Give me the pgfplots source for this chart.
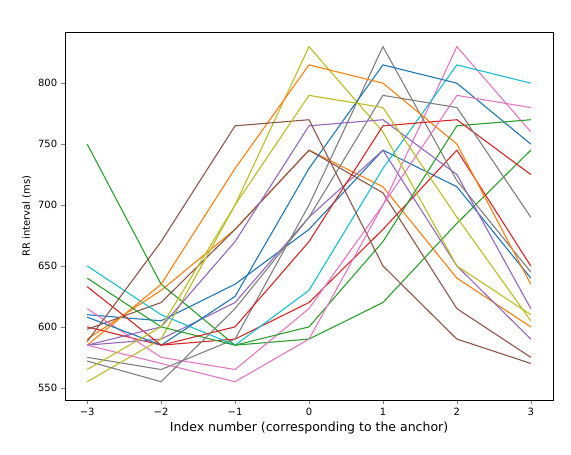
\documentclass[border=0pt]{standalone}
\usepackage{pgfplots}
\pgfplotsset{compat=1.18}
\usepackage{fontspec}
\setmainfont{DejaVu Sans}
\definecolor{c0}{HTML}{1F77B4}\definecolor{c1}{HTML}{FF7F0E}\definecolor{c2}{HTML}{2CA02C}
\definecolor{c3}{HTML}{D62728}\definecolor{c4}{HTML}{9467BD}\definecolor{c5}{HTML}{8C564B}
\definecolor{c6}{HTML}{E377C2}\definecolor{c7}{HTML}{7F7F7F}\definecolor{c8}{HTML}{BCBD22}
\definecolor{c9}{HTML}{17BECF}
\begin{document}
\begin{tikzpicture}
\path (-65pt,-55pt) rectangle (506pt,400pt);
\begin{axis}[at={(0,0)}, anchor=south west, scale only axis, width=488pt, height=368pt,
 xmin=-3.3, xmax=3.3, ymin=540, ymax=842,
 xtick={-3,...,3}, ytick={550,600,...,800},
 tick label style={font=\fontsize{10}{12}\selectfont},
 /pgf/number format/assume math mode=true,
 xticklabels={−3,−2,−1,0,1,2,3},
 xlabel={Index number (corresponding to the anchor)},
 ylabel={RR interval (ms)},
 xlabel style={font=\fontsize{12.5}{14}\selectfont},
 ylabel style={font=\fontsize{10}{12}\selectfont},
 tick align=outside, xtick pos=bottom, ytick pos=left,
 every axis plot/.append style={line width=1.1pt, no marks}]
\addplot[c0] coordinates {(-3,610)(-2,605)(-1,635)(0,680)(1,745)(2,715)(3,640)};
\addplot[c1] coordinates {(-3,590)(-2,630)(-1,680)(0,745)(1,715)(2,640)(3,600)};
\addplot[c2] coordinates {(-3,750)(-2,635)(-1,585)(0,590)(1,620)(2,685)(3,745)};
\addplot[c3] coordinates {(-3,600)(-2,585)(-1,590)(0,620)(1,680)(2,745)(3,650)};
\addplot[c4] coordinates {(-3,585)(-2,590)(-1,620)(0,690)(1,745)(2,650)(3,590)};
\addplot[c5] coordinates {(-3,598)(-2,620)(-1,680)(0,745)(1,710)(2,615)(3,575)};
\addplot[c6] coordinates {(-3,615)(-2,575)(-1,565)(0,615)(1,700)(2,830)(3,760)};
\addplot[c7] coordinates {(-3,575)(-2,565)(-1,590)(0,700)(1,830)(2,720)(3,645)};
\addplot[c8] coordinates {(-3,555)(-2,590)(-1,700)(0,830)(1,760)(2,650)(3,610)};
\addplot[c9] coordinates {(-3,650)(-2,610)(-1,585)(0,630)(1,730)(2,815)(3,800)};
\addplot[c0] coordinates {(-3,608)(-2,585)(-1,625)(0,730)(1,815)(2,800)(3,750)};
\addplot[c1] coordinates {(-3,585)(-2,635)(-1,730)(0,815)(1,800)(2,750)(3,635)};
\addplot[c2] coordinates {(-3,640)(-2,600)(-1,585)(0,600)(1,670)(2,765)(3,770)};
\addplot[c3] coordinates {(-3,633)(-2,585)(-1,600)(0,670)(1,765)(2,770)(3,725)};
\addplot[c4] coordinates {(-3,585)(-2,600)(-1,670)(0,765)(1,770)(2,725)(3,615)};
\addplot[c5] coordinates {(-3,588)(-2,670)(-1,765)(0,770)(1,650)(2,590)(3,570)};
\addplot[c6] coordinates {(-3,585)(-2,570)(-1,555)(0,590)(1,700)(2,790)(3,780)};
\addplot[c7] coordinates {(-3,572)(-2,555)(-1,615)(0,690)(1,790)(2,780)(3,690)};
\addplot[c8] coordinates {(-3,565)(-2,600)(-1,700)(0,790)(1,780)(2,690)(3,605)};
\end{axis}
\end{tikzpicture}
\end{document}
